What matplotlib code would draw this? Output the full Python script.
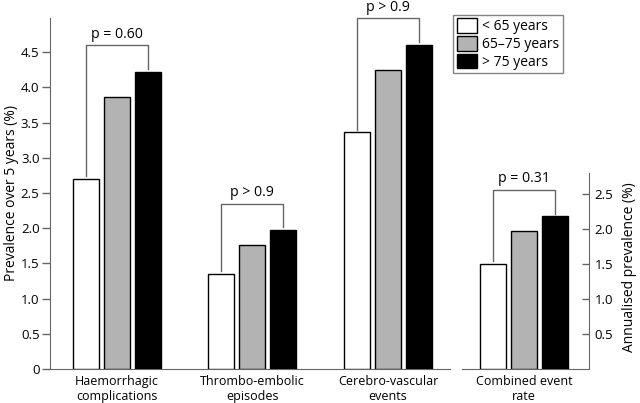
import numpy as np
import matplotlib.pyplot as plt

plt.rcParams['font.family'] = ['Open Sans', 'DejaVu Sans']

# data
groups = ["Haemorrhagic\ncomplications", "Thrombo-embolic\nepisodes", "Cerebro-vascular\nevents"]
age_labels = ["< 65 years", "65\u201375 years", "> 75 years"]
under_65 = [2.70, 1.35, 3.36]
age_65_75 = [3.86, 1.76, 4.24]
over_75 = [4.22, 1.97, 4.60]
p_values = ["p = 0.60", "p > 0.9", "p > 0.9"]

combined_label = "Combined event\nrate"
combined = [1.50, 1.97, 2.18]
combined_p = "p = 0.31"

colors = ["white", "#b3b3b3", "black"]
bar_w = 0.192
step = 0.229
gap = 0.38
line_col = "#666666"

fig = plt.figure(figsize=(6.4, 4.03), dpi=100)
ax = fig.add_axes([0.078, 0.0844, 0.625, 0.871])
ax2 = fig.add_axes([0.722, 0.0844, 0.198, 0.486])

x = np.arange(len(groups))
series = [under_65, age_65_75, over_75]
for i, vals in enumerate(series):
    ax.bar(x + (i - 1) * step, vals, bar_w, color=colors[i], edgecolor="black",
           linewidth=1, label=age_labels[i], zorder=3)


def bracket(a, xc, lo, hi, txt):
    top = max(lo, hi) + gap
    xl, xr = xc - step, xc + step
    a.plot([xl, xl, xr, xr], [lo + 0.04, top, top, hi + 0.04], color=line_col,
           lw=1, clip_on=False, zorder=2)
    a.text(xc, top + 0.05, txt, ha="center", va="bottom", fontsize=10.2, clip_on=False)


for i in range(len(groups)):
    bracket(ax, x[i], under_65[i], over_75[i], p_values[i])

ax.set_xlim(-0.494, 2.457)
ax.set_ylim(0, 4.985)
ax.set_yticks(np.arange(0, 5.0, 0.5))
ax.set_yticklabels(["0"] + [f"{v:.1f}" for v in np.arange(0.5, 5.0, 0.5)])
ax.set_xticks(x)
ax.set_xticklabels(groups, fontsize=9, linespacing=1.25)
ax.tick_params(axis="x", length=0, pad=4)
ax.tick_params(axis="y", direction="out", length=6, width=1, color=line_col,
               labelsize=9.5, pad=1.5)
ax.spines["top"].set_visible(False)
ax.spines["right"].set_visible(False)
for s in ["left", "bottom"]:
    ax.spines[s].set_color(line_col)
ax.set_ylabel("Prevalence over 5 years (%)", fontsize=10)
ax.yaxis.set_label_coords(-0.078, 0.5)

# combined event rate, right hand scale
for i in range(3):
    ax2.bar((i - 1) * step, combined[i], bar_w, color=colors[i], edgecolor="black",
            linewidth=1, zorder=3)
bracket(ax2, 0, combined[0], combined[2], combined_p)
ax2.set_xlim(-0.458, 0.48)
ax2.set_ylim(0, 2.8)
ax2.set_xticks([0])
ax2.set_xticklabels([combined_label], fontsize=9, linespacing=1.25)
ax2.tick_params(axis="x", length=0, pad=4)
ax2.yaxis.tick_right()
ax2.yaxis.set_label_position("right")
ax2.set_yticks([0.5, 1.0, 1.5, 2.0, 2.5])
ax2.tick_params(axis="y", direction="in", length=5, width=1, color=line_col,
                labelsize=9.5, pad=4)
ax2.spines["top"].set_visible(False)
ax2.spines["left"].set_visible(False)
for s in ["right", "bottom"]:
    ax2.spines[s].set_color(line_col)
ax2.set_ylabel("Annualised prevalence (%)", fontsize=10)
ax2.yaxis.set_label_coords(1.265, 0.52)

leg = ax.legend(loc="upper left", bbox_to_anchor=(0.708, 0.963), bbox_transform=fig.transFigure,
                fontsize=10, frameon=True, fancybox=False, edgecolor=line_col,
                handlelength=1.45, handleheight=1.2, handletextpad=0.4, labelspacing=0.15,
                borderpad=0.25, borderaxespad=0)
leg.get_frame().set_linewidth(1)

fig.savefig("out.png", dpi=100)
